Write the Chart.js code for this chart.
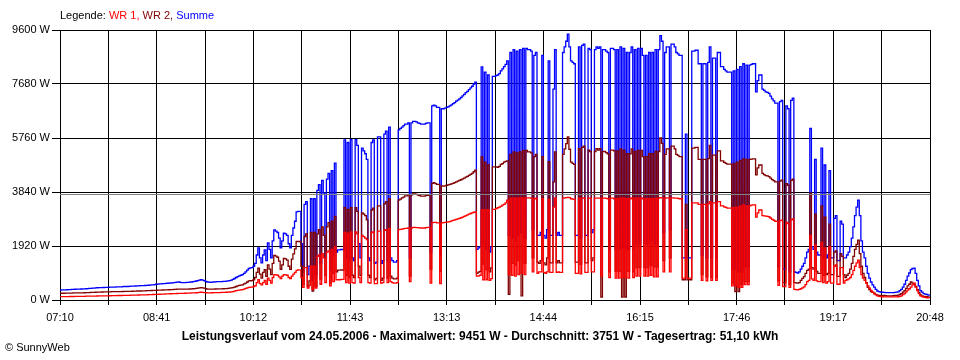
<!DOCTYPE html>
<html>
<head>
<meta charset="utf-8">
<script src="https://cdn.jsdelivr.net/npm/chart.js@4/dist/chart.umd.min.js"></script>
<style>
  body { margin: 0; background: #fff; }
  #wrap { position: relative; width: 960px; height: 360px; background: #fff;
          font-family: "Liberation Sans", Arial, sans-serif; font-size: 11px; color: #000; }
  #chart { position: absolute; left: 0; top: 0; }
  .txt { position: absolute; white-space: nowrap; line-height: 13px; }
  #legend { left: 60px; top: 9px; }
  #title { left: 0; width: 960px; top: 330px; text-align: center; font-weight: bold; font-size: 12px; }
  #copy { left: 5px; top: 341px; }
</style>
</head>
<body>
<div id="wrap">
  <canvas id="chart" width="960" height="360"></canvas>
  <div id="legend" class="txt">Legende: <span style="color:#ff0000">WR 1,</span> <span style="color:#800000">WR 2,</span> <span style="color:#0000ff">Summe</span></div>
  <div id="title" class="txt">Leistungsverlauf vom 24.05.2006 - Maximalwert: 9451 W - Durchschnitt: 3751 W - Tagesertrag: 51,10 kWh</div>
  <div id="copy" class="txt">&copy; SunnyWeb</div>
</div>
<script>
// one sample every 1.5 minutes starting 07:10
const STEP = 1.5;
const DAY_MINUTES = 818; // 07:10 .. 20:48
const AVERAGE = 3751;

const xTickLabels = ['07:10', '08:41', '10:12', '11:43', '13:13', '14:44', '16:15', '17:46', '19:17', '20:48'];
const yTickValues = [0, 1920, 3840, 5760, 7680, 9600];

const summe = [
  355,358,360,362,365,368,370,375,380,382,385,388,390,392,395,398,400,405,410,415,
  420,425,430,435,440,440,440,445,450,450,450,455,460,460,460,465,470,470,470,475,
  480,480,480,485,490,492,495,498,500,505,510,510,510,515,520,525,530,535,540,550,
  560,565,570,575,580,585,590,595,600,605,610,620,630,635,640,630,620,620,620,625,
  630,635,640,650,660,675,690,705,720,705,690,665,640,635,630,635,640,645,650,650,
  650,655,660,665,670,680,690,710,730,765,800,830,860,880,900,950,1000,1060,1120,1140,
  1150,1200,1300,1600,1850,1500,1320,1600,1780,1400,2030,1800,1500,2100,2490,2450,2400,2200,1850,2100,
  2380,2350,2300,2000,1850,2300,2560,2800,3130,3150,3150,2000,1000,3400,3500,900,1200,3600,700,3600,
  900,3900,4100,1300,4250,3800,1500,4300,4500,1100,4600,1600,4870,1700,1780,1780,1800,1790,5690,1500,
  5600,1400,5700,1500,1400,5700,5500,2000,1500,5400,5300,5200,5000,1500,1400,5600,5690,1300,1350,5800,
  5800,1300,1400,5900,6000,1400,6150,1500,1400,1350,1350,1400,6050,6100,6150,6200,6250,6250,6300,1500,
  6300,6350,6350,6330,6300,6280,6250,6250,6250,6280,6300,6300,1700,6900,6930,6900,6850,6850,1600,6800,
  6800,6820,6850,6870,6900,6940,6980,7020,7070,7110,7150,7200,7260,7310,7370,7420,7480,7540,7600,7680,
  7750,1800,1850,1900,8290,2000,8100,1800,8000,1700,1900,7950,7950,7980,8000,8050,8150,8220,8300,8380,
  8500,2300,8800,2200,8900,2100,8850,2300,8900,2400,8950,2200,8950,8900,8900,8850,2500,8700,8800,2300,
  2300,2400,8700,2300,2200,2500,8500,2300,2300,7500,8900,2300,2400,2300,2300,8800,9000,9200,9450,9000,
  8500,8450,8400,2300,2300,9000,2200,9050,9100,2300,2300,8950,8900,2400,2500,8900,9000,8950,9000,1900,
  8900,8900,8850,8800,1800,8950,8950,8900,1800,8900,1800,9000,1850,8950,1850,8800,1800,8800,9000,1800,
  8900,2000,8950,2000,8950,8700,2000,8700,2000,8800,2100,8800,2000,8900,2000,8900,9400,9200,2400,8800,
  9000,9000,2500,9100,9100,9000,8800,8750,8700,8700,1500,1500,5900,1500,1500,1500,8850,8850,8880,8880,
  8400,8400,1600,8400,8400,1500,8450,9000,1500,8600,8600,1500,8800,8800,8300,8300,8200,8150,8100,8100,
  8100,1100,8150,1100,8200,1000,8300,1000,8400,1200,8350,1200,8350,8380,8400,8400,7400,7800,8000,8000,
  7500,7450,7400,7380,7350,7250,7150,7080,7000,7000,1200,7050,7100,1100,1100,6900,6800,1000,7100,7180,
  1000,980,960,1000,1100,1200,1300,1500,1700,1800,6100,1900,1800,5000,1700,1600,1600,5400,1500,4800,
  1500,1600,4600,1500,1500,2900,3000,1400,1400,2800,2700,1500,1500,1600,1700,1900,2200,2600,3000,3300,
  3550,3000,2100,1700,1500,1200,950,780,640,540,460,380,320,300,280,275,270,265,260,260,
  260,260,265,270,280,290,330,380,460,560,700,850,960,1080,1120,1130,950,700,500,330,280,230,210,200,170,150
];

const wr1 = [
  117,118,120,120,120,122,125,125,125,128,130,130,130,130,130,132,135,135,135,138,
  140,140,140,142,145,145,145,148,150,150,150,152,155,155,155,158,160,160,160,162,
  165,165,165,168,170,170,170,172,175,178,180,180,180,182,185,188,190,192,195,198,
  200,202,205,208,210,212,215,218,220,222,225,228,230,232,235,235,235,238,240,242,
  245,248,250,252,255,258,260,268,275,270,265,260,255,255,255,258,260,262,265,265,
  265,268,270,272,275,280,285,292,300,315,330,340,350,360,370,390,410,430,450,455,
  460,480,500,620,720,580,540,620,700,560,780,700,600,800,900,890,880,820,760,850,
  900,890,880,800,760,850,920,980,1050,1070,1070,800,450,1150,1150,420,520,1200,380,1200,
  420,1550,1600,560,1650,1500,620,1700,1750,500,1800,650,1900,720,720,720,730,730,2400,620,
  2380,600,2420,620,600,2420,2350,800,620,2300,2250,2200,2150,620,600,2400,2420,580,580,2450,
  2450,600,620,2480,2500,620,2550,650,620,600,600,620,2500,2510,2520,2540,2550,2550,2560,650,
  2560,2580,2580,2575,2570,2565,2560,2560,2560,2570,2580,2580,600,2750,2760,2760,2740,2740,580,2740,
  2750,2760,2770,2780,2790,2810,2830,2850,2870,2885,2900,2925,2950,2975,3000,3025,3050,3075,3100,3120,
  3130,850,860,880,3200,720,3200,720,3200,700,760,3220,3220,3250,3280,3300,3330,3370,3400,3450,
  3550,900,3620,880,3630,850,3620,900,3630,950,3630,900,3630,3630,3630,3620,1000,3600,3620,950,
  1000,1000,3600,980,950,1000,3580,980,980,3300,3630,980,1000,980,980,3620,3630,3640,3650,3640,
  3600,3590,3580,950,950,3620,930,3620,3630,980,980,3620,3620,1000,1000,3620,3620,3620,3620,850,
  3620,3620,3610,3600,800,3620,3620,3600,780,3600,780,3630,800,3620,800,3600,780,3600,3630,800,
  3620,850,3630,850,3630,3600,850,3600,850,3600,880,3600,820,3620,820,3620,3640,3630,1000,3620,
  3630,3630,1000,3630,3630,3625,3620,3610,3600,3600,780,780,2500,780,780,780,3450,3450,3450,3450,
  3400,3400,700,3400,3400,680,3420,3500,700,3450,3450,700,3500,3500,3350,3350,3310,3290,3270,3270,
  3270,500,3290,500,3300,450,3340,450,3380,550,3350,550,3350,3370,3380,3380,2950,3100,3200,3200,
  3000,2990,2980,2970,2960,2915,2870,2835,2800,2800,520,2820,2840,480,480,2760,2720,450,2850,2880,
  380,370,360,380,400,430,470,550,650,700,2300,750,700,1950,680,650,650,2050,620,1850,
  600,650,1900,600,600,1200,1250,560,560,1150,1150,600,700,720,750,800,900,1050,1200,1320,
  1420,1150,900,780,700,600,500,420,340,280,220,180,150,130,120,115,110,110,110,110,
  110,110,110,110,112,115,130,150,190,230,290,350,400,460,540,600,460,330,230,150,120,100,90,80,75,70
];

const wr2 = [
  240,240,240,242,245,245,245,248,250,250,250,252,255,255,255,258,260,262,265,268,
  270,272,275,278,280,282,285,288,290,290,290,292,295,295,295,298,300,300,300,302,
  305,308,310,310,310,312,315,318,320,320,320,322,325,328,330,332,335,338,340,342,
  345,348,350,352,355,358,360,362,365,368,370,375,380,385,390,388,385,385,385,388,
  390,392,395,400,405,412,420,430,440,430,420,405,390,388,385,388,390,392,395,395,
  395,398,400,402,405,412,420,430,440,460,480,500,520,530,540,570,600,640,680,685,
  690,720,800,980,1130,920,780,980,1080,840,1250,1100,900,1300,1590,1560,1520,1380,1090,1250,
  1480,1460,1420,1200,1090,1450,1640,1820,2080,2080,2080,1200,550,2250,2350,480,680,2400,320,2400,
  480,2350,2500,740,2600,2300,880,2600,2750,600,2800,950,2970,1000,1060,1060,1070,1060,3290,880,
  3220,800,3280,880,800,3280,3150,1200,880,3100,3050,3000,2850,880,800,3200,3270,720,770,3350,
  3350,700,780,3420,3500,780,3600,850,780,750,750,780,3550,3590,3630,3660,3700,3700,3740,850,
  3740,3770,3770,3755,3730,3715,3690,3690,3690,3710,3720,3720,1100,4150,4170,4140,4110,4110,1020,4060,
  4050,4060,4080,4090,4110,4130,4150,4170,4200,4225,4250,4275,4310,4335,4370,4395,4430,4465,4500,4560,
  4620,950,990,1020,5090,1280,4900,1080,4800,1000,1140,4730,4730,4730,4720,4750,4820,4850,4900,4930,
  4950,200,5180,1300,5270,1250,5230,1400,5270,150,5320,1300,5320,5270,5270,5230,1500,5100,5180,1350,
  1300,1400,5100,1320,1250,1500,4920,1320,1320,4200,5270,1320,1400,1320,1320,5180,5370,5560,5800,5360,
  4900,4860,4820,1350,1350,5380,1270,5430,5470,1320,1320,5330,5280,1400,1500,5280,5380,5330,5380,100,
  5280,5280,5240,5200,1000,5330,5330,5300,1020,5300,1020,5370,100,5330,100,5200,1020,5200,5370,1000,
  5280,1150,5320,1150,5320,5100,1150,5100,1150,5200,1220,5200,1180,5280,1180,5280,5760,5570,1400,5180,
  5370,5370,1500,5470,5470,5375,5180,5140,5100,5100,720,720,3400,720,720,720,5400,5400,5430,5430,
  5000,5000,900,5000,5000,820,5030,5500,800,5150,5150,800,5300,5300,4950,4950,4890,4860,4830,4830,
  4830,600,4860,300,4900,300,4960,550,5020,650,5000,650,5000,5010,5020,5020,4450,4700,4800,4800,
  4500,4460,4420,4410,4390,4335,4280,4245,4200,4200,680,4230,4260,620,620,4140,4080,550,4250,4300,
  620,610,600,620,700,770,830,950,1050,1100,3800,1150,1100,3050,1020,950,950,3350,880,2950,
  900,950,2700,900,900,1700,1750,840,840,1650,1550,900,800,880,950,1100,1300,1550,1800,1980,
  2130,1650,1200,950,800,620,450,370,300,270,240,200,170,165,160,160,160,155,150,150,
  150,150,155,160,165,175,200,230,280,330,410,500,560,640,600,560,480,370,270,180,150,130,125,120,100,90
];

function toPoints(values) {
  return values.map((v, i) => ({ x: i * STEP, y: v }));
}

const xGridCount = (xTickLabels.length - 1) * 2;

const lineStyle = { borderWidth: 1.3, pointRadius: 0, fill: false, tension: 0, stepped: true };

new Chart(document.getElementById('chart'), {
  type: 'line',
  data: {
    datasets: [
      { label: 'Durchschnitt', data: [{ x: 0, y: AVERAGE }, { x: DAY_MINUTES, y: AVERAGE }], borderColor: '#808080', borderWidth: 1, pointRadius: 0 },
      { label: 'WR 1', data: toPoints(wr1), borderColor: '#ff0000', ...lineStyle },
      { label: 'WR 2', data: toPoints(wr2), borderColor: '#800000', ...lineStyle },
      { label: 'Summe', data: toPoints(summe), borderColor: '#0000ff', ...lineStyle }
    ]
  },
  options: {
    responsive: false,
    animation: false,
    events: [],
    layout: { padding: { top: 30, right: 30, bottom: 36, left: 0 } },
    plugins: { legend: { display: false }, tooltip: { enabled: false } },
    scales: {
      x: {
        type: 'linear',
        min: 0,
        max: DAY_MINUTES,
        z: 1,
        afterBuildTicks: (scale) => {
          const ticks = [];
          for (let k = 0; k <= xGridCount; k++) ticks.push({ value: k * DAY_MINUTES / xGridCount });
          scale.ticks = ticks;
        },
        afterFit: (scale) => { scale.height = 24; },
        grid: { color: '#000000', lineWidth: 1, tickLength: 5, tickColor: '#000000' },
        border: { color: '#000000', width: 1 },
        ticks: {
          autoSkip: false,
          maxRotation: 0,
          padding: 6,
          color: '#000000',
          font: { family: '"Liberation Sans", Arial, sans-serif', size: 11 },
          callback: (v, i) => (i % 2 === 0 ? xTickLabels[i / 2] : '')
        }
      },
      y: {
        min: 0,
        max: 9600,
        z: 1,
        afterBuildTicks: (scale) => { scale.ticks = yTickValues.map(v => ({ value: v })); },
        afterFit: (scale) => { scale.width = 60; },
        grid: { color: '#000000', lineWidth: 1, tickLength: 8, tickColor: '#000000' },
        border: { color: '#000000', width: 1 },
        ticks: {
          padding: 2,
          color: '#000000',
          font: { family: '"Liberation Sans", Arial, sans-serif', size: 11 },
          callback: (v) => v + ' W'
        }
      }
    }
  }
});
</script>
</body>
</html>
